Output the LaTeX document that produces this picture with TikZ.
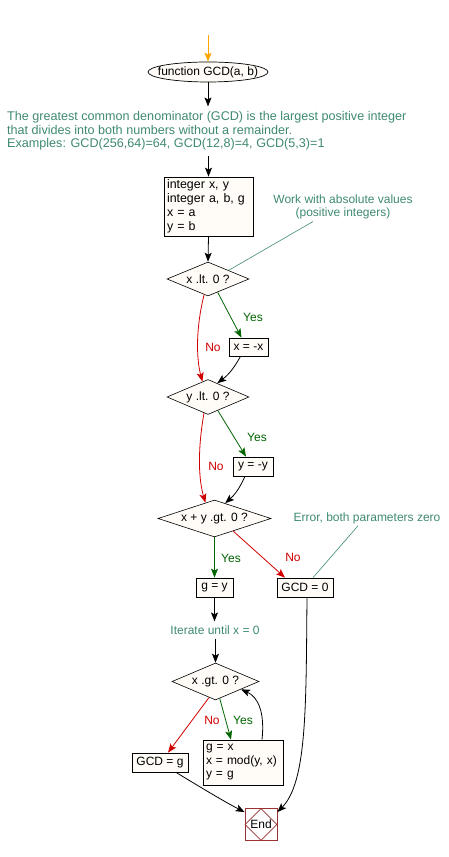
\documentclass[tikz,border=0pt]{standalone}
\usepackage{fontspec}
\setmainfont{Liberation Sans}
\usetikzlibrary{shapes.geometric,arrows.meta,calc}
\definecolor{nfill}{HTML}{FFFCF7}
\definecolor{cmtc}{HTML}{3F8A6E}
\definecolor{rd}{HTML}{D00000}
\definecolor{grn}{HTML}{006400}
\definecolor{endc}{HTML}{993333}
\definecolor{orng}{HTML}{FFA500}
\begin{document}
\begin{tikzpicture}[x=1pt,y=1pt,
  font=\fontsize{12}{13.5}\selectfont,
  box/.style={draw, fill=nfill, inner sep=0pt, line width=0.7pt},
  dia/.style={diamond, draw, fill=nfill, inner sep=0pt, line width=0.6pt},
  cmt/.style={text=cmtc, inner xsep=0pt},
  arr/.style={-{Stealth[length=9pt,width=7pt,inset=2pt]}, line width=0.8pt},
  yesarr/.style={arr, draw=grn},
  noarr/.style={arr, draw=rd},
  ylab/.style={text=grn, inner sep=0pt},
  nlab/.style={text=rd, inner sep=0pt},
  cline/.style={draw=cmtc, line width=0.6pt}
]
\useasboundingbox (0,0) rectangle (449,857);

% start
\coordinate (top) at (208,822);
\node[ellipse, draw, fill=nfill, inner sep=0pt, line width=0.7pt, minimum width=120pt, minimum height=20pt] (start) at (208,785) {\makebox[0pt]{function GCD(a, b)}};
\draw[arr, draw=orng] (top) -- (start.north);

% comment 1
\node[cmt, anchor=west, align=left, inner ysep=5pt, font=\fontsize{12.6}{13.5}\selectfont] (c1) at (7,726) {The greatest common denominator (GCD) is the largest positive integer\\that divides into both numbers without a remainder.\\Examples: GCD(256,64)=64, GCD(12,8)=4, GCD(5,3)=1};
\draw[arr] (start.south) -- (start.south |- c1.north);

% init box
\node[box, text width=83pt, align=left, inner xsep=3pt, minimum height=59pt, font=\fontsize{12.4}{14}\selectfont] (init) at (208.5,650.5) {integer x, y\\integer a, b, g\\x = a\\y = b};
\draw[arr] (init.north |- c1.south) -- (init.north);

% diamond 1
\node[dia, minimum width=82pt, minimum height=34pt] (d1) at (208,578) {\makebox[0pt]{x .lt. 0 ?}};
\draw[arr] (init.south) -- (d1.north);

% comment 2
\node[cmt, align=center, inner ysep=2pt] (c2) at (343,650) {Work with absolute values\\(positive integers)};
\draw[cline] ([xshift=-30pt]c2.south) -- (d1.north east);

% x = -x
\node[box, minimum width=39pt, minimum height=18pt] (x1) at (248.5,510) {x = -x};
\draw[yesarr] (d1.-54) -- ([xshift=-7pt]x1.north);
\node[ylab] (yes1) at (253,540) {Yes};

% diamond 2
\node[dia, minimum width=82pt, minimum height=35pt] (d2) at (208,460) {\makebox[0pt]{y .lt. 0 ?}};
\draw[noarr] (d1.-104) .. controls (196,530) and (196,500) .. (d2.110);
\node[nlab] (no1) at (213,510) {No};
\draw[arr] ([xshift=-8pt]x1.south) to[bend left=12] (d2.56);

% y = -y
\node[box, minimum width=40pt, minimum height=19pt] (y1) at (253,390.5) {y = -y};
\draw[yesarr] (d2.-54) -- ([xshift=-7pt]y1.north);
\node[ylab] (yes2) at (257,420) {Yes};

% diamond 3
\node[dia, minimum width=113pt, minimum height=37pt] (d3) at (214.5,338.5) {\makebox[0pt]{x + y .gt. 0 ?}};
\draw[noarr] (d2.-104) .. controls (198,410) and (198,380) .. (d3.120);
\node[nlab] (no2) at (216,391) {No};
\draw[arr] ([xshift=-8pt]y1.south) to[bend left=12] (d3.55);

% comment 3
\node[cmt, inner ysep=2pt] (c3) at (367,339) {Error, both parameters zero};

% g = y and GCD = 0
\node[box, minimum width=37pt, minimum height=19pt] (g1) at (214.5,269.5) {g = y};
\node[box, minimum width=56pt, minimum height=19pt] (gcd0) at (305,269.5) {GCD = 0};
\draw[yesarr] (d3.south) -- (g1.north);
\node[ylab] (yes3) at (231,299) {Yes};
\draw[noarr] (d3.-34) -- ([xshift=-20pt]gcd0.north);
\node[nlab] (no3) at (293,300) {No};
\draw[cline] ([xshift=-9pt]c3.south) -- ([xshift=8pt]gcd0.north);

% comment 4
\node[cmt, inner ysep=4pt] (c4) at (215,227) {Iterate until x = 0};
\draw[arr] (g1.south) -- (g1.south |- c4.north);

% diamond 4
\node[dia, minimum width=87pt, minimum height=37pt] (d4) at (215.5,175.5) {\makebox[0pt]{x .gt. 0 ?}};
\draw[arr] (d4.north |- c4.south) -- (d4.north);

% GCD = g and loop body
\node[box, minimum width=56pt, minimum height=19pt] (gcdg) at (160,94.5) {GCD = g};
\node[box, text width=74pt, align=left, inner xsep=3pt, minimum height=45pt] (body) at (243,94.5) {g = x\\x = mod(y, x)\\y = g};
\draw[noarr] (d4.-112) -- ([xshift=8pt]gcdg.north);
\node[nlab] (no4) at (212,137) {No};
\draw[yesarr] (d4.-76) -- ([xshift=-12pt]body.north);
\node[ylab] (yes4) at (243,137) {Yes};
\draw[arr] ([xshift=19pt]body.north) .. controls (265,145) and (258,160) .. (d4.-17);

% End
\node[draw=endc, fill=white, line width=0.8pt, minimum size=32pt, inner sep=0pt] (endbox) at (261,32.5) {};
\node[diamond, draw=endc, line width=0.6pt, minimum size=32pt, inner sep=0pt] (endd) at (endbox.center) {\makebox[0pt]{End}};
\draw[arr] ([xshift=16pt]gcdg.south) .. controls (200,70) and (225,55) .. ([yshift=-4pt]endbox.north west);
\draw[arr] ([xshift=2pt]gcd0.south) .. controls (306,150) and (307,75) .. ([yshift=-4pt]endbox.north east);
\end{tikzpicture}
\end{document}
